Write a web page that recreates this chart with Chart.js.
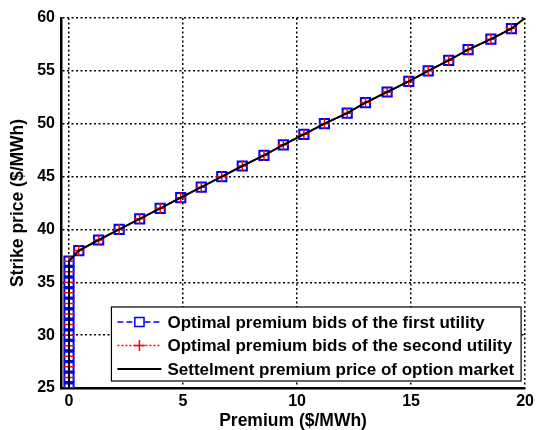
<!DOCTYPE html>
<html>
<head>
<meta charset="utf-8">
<script src="https://cdn.jsdelivr.net/npm/chart.js@4.4.1/dist/chart.umd.min.js"></script>
<style>
  html, body { margin: 0; padding: 0; background: #fff; }
  #wrap { width: 538px; height: 430px; }
</style>
</head>
<body>
<div id="wrap"><canvas id="strikeChart"></canvas></div>
<script>
// strike price levels ($/MWh)
const strikePrices = [25, 26, 27, 28, 29, 30, 31, 32, 33, 34, 35, 36, 37,
    38, 39, 40, 41, 42, 43, 44, 45, 46, 47, 48, 49, 50,
    51, 52, 53, 54, 55, 56, 57, 58, 59];
// premium bids ($/MWh)
const premiumFirst = [0, 0, 0, 0, 0, 0, 0, 0, 0, 0, 0, 0, 0,
    0.43, 1.3, 2.2, 3.1, 4.0, 4.9, 5.8, 6.7, 7.6, 8.55, 9.4, 10.3, 11.2,
    12.2, 13.0, 13.95, 14.9, 15.75, 16.65, 17.5, 18.5, 19.4];
const premiumSecond = [0, 0, 0, 0, 0, 0, 0, 0, 0, 0, 0, 0, 0,
    0.43, 1.3, 2.2, 3.1, 4.0, 4.9, 5.8, 6.7, 7.6, 8.55, 9.4, 10.3, 11.2,
    12.2, 13.0, 13.95, 14.9, 15.75, 16.65, 17.5, 18.5, 19.4];
// settlement curve runs on to the corner
const settleStrike = strikePrices.concat([60]);
const settlePremium = premiumFirst.concat([20]);

const xTicks = [0, 5, 10, 15, 20];
const yTicks = [25, 30, 35, 40, 45, 50, 55, 60];

const FONT = '"Liberation Sans", Arial, Helvetica, sans-serif';

const toPoints = (xs, ys) => xs.map((x, i) => ({ x: x, y: ys[i] }));

// legend drawn inside the plot, bottom right
const insideLegend = {
    id: 'insideLegend',
    afterDraw(chart) {
        const { ctx, chartArea } = chart;
        const sets = chart.data.datasets;
        ctx.save();
        ctx.font = 'bold 17px ' + FONT;
        const textW = Math.max(...sets.map(d => ctx.measureText(d.label).width));
        const sampleW = 44, gap = 6, padL = 6, padR = 7, rowH = 23.5;
        const w = padL + sampleW + gap + textW + padR;
        const h = 74;
        const right = chartArea.right - 4;
        const bottom = chartArea.bottom - 7;
        const left = right - w, top = bottom - h;

        ctx.fillStyle = '#fff';
        ctx.fillRect(left, top, w, h);
        ctx.lineWidth = 1.2;
        ctx.strokeStyle = '#000';
        ctx.setLineDash([]);
        ctx.strokeRect(left, top, w, h);

        sets.forEach((d, i) => {
            const y = top + 15 + i * rowH;
            const x0 = left + padL;
            ctx.beginPath();
            ctx.setLineDash(d.borderDash || []);
            ctx.strokeStyle = d.borderColor;
            ctx.lineWidth = d.borderWidth;
            ctx.moveTo(x0, y);
            ctx.lineTo(x0 + sampleW, y);
            ctx.stroke();
            ctx.setLineDash([]);
            if (d.pointRadius > 0) {
                ctx.strokeStyle = d.pointBorderColor;
                ctx.fillStyle = '#fff';
                Chart.helpers.drawPoint(ctx, {
                    pointStyle: d.pointStyle,
                    radius: d.pointRadius,
                    borderWidth: d.pointBorderWidth,
                    rotation: 0
                }, x0 + sampleW / 2, y);
            }
            ctx.fillStyle = '#000';
            ctx.textBaseline = 'middle';
            ctx.textAlign = 'left';
            ctx.fillText(d.label, x0 + sampleW + gap, y + 1);
        });
        ctx.restore();
    }
};

const ctx = document.getElementById('strikeChart');

new Chart(ctx, {
    type: 'scatter',
    data: {
        datasets: [{
            label: 'Optimal premium bids of the first utility',
            data: toPoints(premiumFirst, strikePrices),
            showLine: true,
            borderColor: '#0000ff',
            borderWidth: 1.5,
            borderDash: [6, 3],
            pointStyle: 'rect',
            pointRadius: 6.5,
            pointBorderColor: '#0000ff',
            pointBorderWidth: 2,
            pointBackgroundColor: 'rgba(0,0,0,0)',
            order: 2
        }, {
            label: 'Optimal premium bids of the second utility',
            data: toPoints(premiumSecond, strikePrices),
            showLine: true,
            borderColor: '#ff0000',
            borderWidth: 1.5,
            borderDash: [2, 2],
            pointStyle: 'cross',
            pointRadius: 5.5,
            pointBorderColor: '#ff0000',
            pointBorderWidth: 1.5,
            order: 1
        }, {
            label: 'Settelment premium price of option market',
            data: toPoints(settlePremium, settleStrike),
            showLine: true,
            borderColor: '#000000',
            borderWidth: 2,
            pointRadius: 0,
            tension: 0,
            order: 0
        }]
    },
    options: {
        responsive: true,
        maintainAspectRatio: false,
        animation: false,
        events: [],
        layout: { padding: { top: 18, right: 10, left: 0, bottom: 0 } },
        plugins: {
            legend: { display: false },
            tooltip: { enabled: false }
        },
        scales: {
            x: {
                type: 'linear',
                min: -0.35,
                max: 20,
                afterBuildTicks: scale => { scale.ticks = xTicks.map(v => ({ value: v })); },
                afterFit: scale => { scale.height = 42; },
                ticks: {
                    color: '#000',
                    padding: 4,
                    font: { family: FONT, size: 16, weight: 'bold' }
                },
                grid: {
                    color: '#000',
                    lineWidth: 1.5,
                    drawTicks: false
                },
                border: { display: true, color: '#000', width: 2.5, dash: [2, 2.5] },
                title: {
                    display: true,
                    text: 'Premium ($/MWh)',
                    color: '#000',
                    padding: { top: 0, bottom: 0 },
                    font: { family: FONT, size: 17.5, weight: 'bold', lineHeight: 1.0 }
                }
            },
            y: {
                type: 'linear',
                min: 25,
                max: 60,
                afterBuildTicks: scale => { scale.ticks = yTicks.map(v => ({ value: v })); },
                afterFit: scale => { scale.width = 61; },
                ticks: {
                    color: '#000',
                    padding: 6,
                    font: { family: FONT, size: 16, weight: 'bold' }
                },
                grid: {
                    color: '#000',
                    lineWidth: 1.5,
                    drawTicks: false
                },
                border: { display: true, color: '#000', width: 2.5, dash: [2, 2.5] },
                title: {
                    display: true,
                    text: 'Strike price ($/MWh)',
                    color: '#000',
                    padding: { top: 9, bottom: 0 },
                    font: { family: FONT, size: 17.5, weight: 'bold', lineHeight: 1.0 }
                }
            }
        }
    },
    plugins: [insideLegend]
});
</script>
</body>
</html>
